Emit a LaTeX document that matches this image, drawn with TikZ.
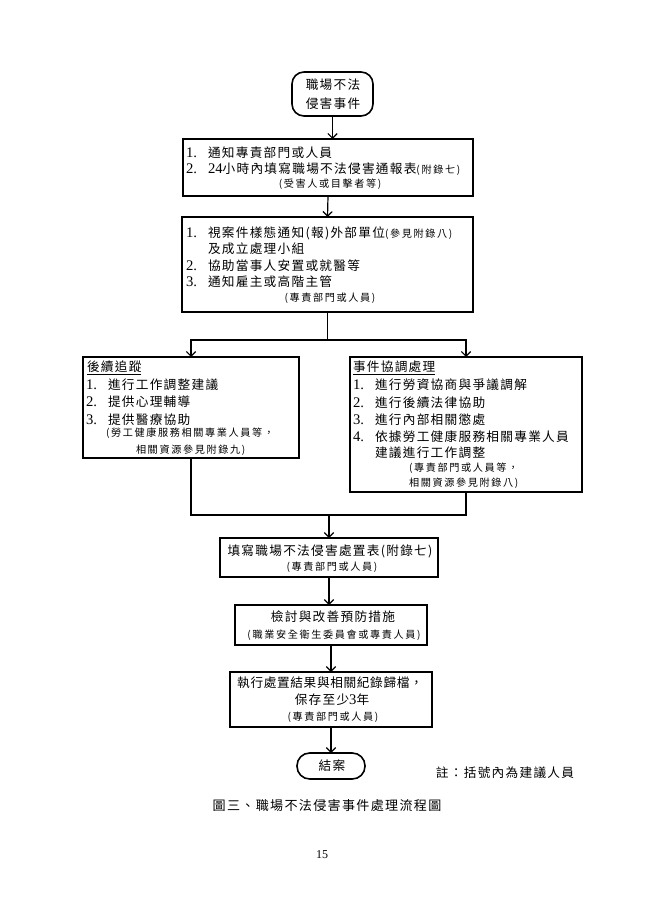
\documentclass[tikz,border=0pt]{standalone}
\usepackage{fontspec}
\setmainfont{Noto Sans CJK TC}
\newfontfamily\cjkm{Noto Sans CJK TC}[LetterSpace=10]
\newfontfamily\cjkn{Noto Sans CJK TC}[LetterSpace=5]
\newfontfamily\cjks{Noto Sans CJK TC}[LetterSpace=16]
\newfontfamily\lat{Liberation Serif}
\usetikzlibrary{arrows.meta}
\newcommand\mfnt{\cjkm\fontsize{9.5}{11}\selectfont}
\newcommand\nfnt{\cjkn\fontsize{9.5}{11}\selectfont}
\newcommand\sfnt{\cjks\fontsize{7.6}{9}\selectfont}
\newcommand\num[1]{{\lat\fontsize{11}{12}\selectfont #1}}
\newcommand\itm[1]{\makebox[16.5pt][l]{\num{#1}}}
\tikzset{
  box/.style={draw, line width=1.6pt, inner sep=0pt, outer sep=0pt},
  term/.style={draw, line width=1.2pt, inner sep=0pt, outer sep=0pt},
  conn/.style={line width=0.9pt},
  arr/.style={conn, -{Straight Barb[length=3.5pt,width=7pt]}},
  mt/.style={inner sep=0pt, outer sep=0pt, font=\mfnt, text height=8.3pt, text depth=1.1pt},
  st/.style={inner sep=0pt, outer sep=0pt, font=\sfnt, text height=6.6pt, text depth=0.8pt}
}
\begin{document}
\begin{tikzpicture}[x=0.75pt, y=-0.75pt]
\fill[white] (0,0) rectangle (647,913);
\useasboundingbox (0,0) rectangle (647,913);

% boxes
\node[term, rounded corners=9pt, minimum width=81*0.75pt, minimum height=44*0.75pt] (start) at (332.5,94) {};
\node[box, minimum width=290*0.75pt, minimum height=57*0.75pt] (b2) at (328,167.5) {};
\node[box, minimum width=291*0.75pt, minimum height=95*0.75pt] (b3) at (327.5,264.5) {};
\node[box, minimum width=216*0.75pt, minimum height=101*0.75pt] (L) at (191,407.5) {};
\node[box, minimum width=232*0.75pt, minimum height=135*0.75pt] (R) at (466,424.5) {};
\node[box, minimum width=218*0.75pt, minimum height=39*0.75pt] (b4) at (329,557.5) {};
\node[box, minimum width=192*0.75pt, minimum height=40*0.75pt] (b5) at (331,625) {};
\node[box, minimum width=202*0.75pt, minimum height=55*0.75pt] (b6) at (331,699.5) {};
\node[term, rounded corners=9.5pt, minimum width=68*0.75pt, minimum height=26*0.75pt] (end) at (331,766) {};

% texts
\node[mt] (s1) at (333,85) {職場不法};
\node[mt] (s2) at (333,104) {侵害事件};

\node[mt, anchor=west] (t21) at (186,153) {\itm{1.}通知專責部門或人員};
\node[mt, anchor=west] (t22) at (186,169) {\itm{2.}\num{24}小時內填寫職場不法侵害通報表{\sfnt(附錄七)}};
\node[st] (t23) at (330,184) {(受害人或目擊者等)};

\node[mt, anchor=west] (t31) at (186,233) {\itm{1.}視案件樣態通知(報)外部單位{\sfnt(參見附錄八)}};
\node[mt, anchor=west] (t32) at (208,249) {及成立處理小組};
\node[mt, anchor=west] (t33) at (186,266) {\itm{2.}協助當事人安置或就醫等};
\node[mt, anchor=west] (t34) at (186,282) {\itm{3.}通知雇主或高階主管};
\node[st] (t35) at (330,298) {(專責部門或人員)};

\node[mt, anchor=west] (l0) at (87,367) {\underline{後續追蹤}};
\node[mt, anchor=west] (l1) at (86,385) {\itm{1.}進行工作調整建議};
\node[mt, anchor=west] (l2) at (86,402) {\itm{2.}提供心理輔導};
\node[mt, anchor=west] (l3) at (86,420) {\itm{3.}提供醫療協助};
\node[st, anchor=west] (l4) at (106,433) {(勞工健康服務相關專業人員等，};
\node[st, anchor=west] (l5) at (136,450) {相關資源參見附錄九)};

\node[mt, anchor=west] (r0) at (353,367) {\underline{事件協調處理}};
\node[mt, anchor=west] (r1) at (353,385) {\itm{1.}進行勞資協商與爭議調解};
\node[mt, anchor=west] (r2) at (353,403) {\itm{2.}進行後續法律協助};
\node[mt, anchor=west] (r3) at (353,420) {\itm{3.}進行內部相關懲處};
\node[mt, anchor=west] (r4) at (353,437) {\itm{4.}依據勞工健康服務相關專業人員};
\node[mt, anchor=west] (r5) at (375,453) {建議進行工作調整};
\node[st, anchor=west] (r6) at (409,468) {(專責部門或人員等，};
\node[st, anchor=west] (r7) at (409,483) {相關資源參見附錄八)};

\node[mt] (t41) at (330,551) {填寫職場不法侵害處置表(附錄七)};
\node[st] (t42) at (332,567) {(專責部門或人員)};

\node[mt] (t51) at (333,617) {檢討與改善預防措施};
\node[st] (t52) at (334,635) {(職業安全衛生委員會或專責人員)};

\node[mt, font=\nfnt] (t61) at (330,683) {執行處置結果與相關紀錄歸檔，};
\node[mt] (t62) at (332,700) {保存至少\num{3}年};
\node[st] (t63) at (333,717) {(專責部門或人員)};

\node[mt] (e1) at (332,766) {結案};

\node[mt] (note) at (505,773) {註：括號內為建議人員};
\node[mt, font=\cjkm\fontsize{9.8}{11}\selectfont] (cap) at (327,806) {圖三、職場不法侵害事件處理流程圖};
\node[inner sep=0pt, font=\lat\fontsize{9}{10}\selectfont] (pg) at (322,855) {15};

% connectors
\coordinate (j1) at (b3.south |- 0,340);
\coordinate (j2) at (b4.north |- 0,515);
\draw[arr] (start.south) -- (start.south |- b2.north);
\draw[arr] (b2.south) -- (b3.north);
\draw[conn] (b3.south) -- (j1);
\draw[arr] (j1) -| (L.north);
\draw[arr] (j1) -| (R.north);
\draw[conn] (L.south) |- (j2);
\draw[conn] (R.south) |- (j2);
\draw[arr] (j2) -- (b4.north);
\draw[arr] (b4.south) -- (b4.south |- b5.north);
\draw[arr] (b5.south) -- (b6.north);
\draw[arr] (b6.south) -- (end.north);
\end{tikzpicture}
\end{document}
